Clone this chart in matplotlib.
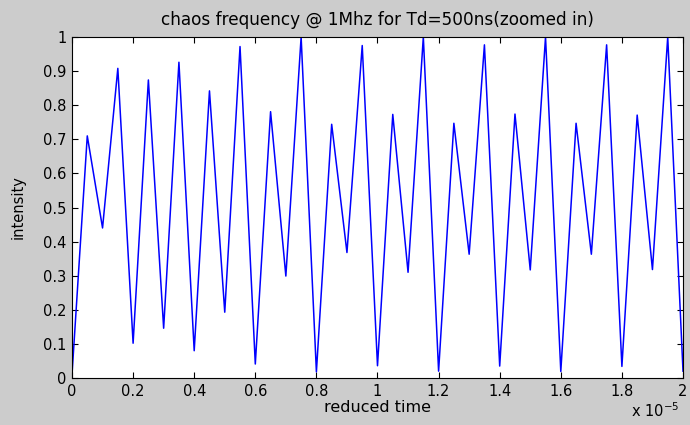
import matplotlib
matplotlib.use("Agg")
import matplotlib.pyplot as plt

# reduced time (units of 1e-5 s) at the peaks / troughs of the waveform
time_pts = [0.00, 0.05, 0.10, 0.15, 0.20, 0.25, 0.30, 0.35, 0.40, 0.45,
            0.50, 0.55, 0.60, 0.65, 0.70, 0.75, 0.80, 0.85, 0.90, 0.95,
            1.00, 1.05, 1.10, 1.15, 1.20, 1.25, 1.30, 1.35, 1.40, 1.45,
            1.50, 1.55, 1.60, 1.65, 1.70, 1.75, 1.80, 1.85, 1.90, 1.95,
            2.00]
intensity = [0.01, 0.71, 0.44, 0.908, 0.102, 0.874, 0.146, 0.926, 0.080, 0.842,
             0.193, 0.972, 0.041, 0.781, 0.299, 1.0, 0.018, 0.744, 0.368, 0.975,
             0.036, 0.773, 0.310, 1.0, 0.020, 0.747, 0.363, 0.977, 0.035, 0.774,
             0.317, 1.0, 0.019, 0.747, 0.363, 0.977, 0.034, 0.771, 0.318, 1.0,
             0.020]

x_ticks = [0, 0.2, 0.4, 0.6, 0.8, 1.0, 1.2, 1.4, 1.6, 1.8, 2.0]
x_tick_labels = ["0", "0.2", "0.4", "0.6", "0.8", "1", "1.2", "1.4", "1.6", "1.8", "2"]
y_ticks = [0, 0.1, 0.2, 0.3, 0.4, 0.5, 0.6, 0.7, 0.8, 0.9, 1.0]
y_tick_labels = ["0", "0.1", "0.2", "0.3", "0.4", "0.5", "0.6", "0.7", "0.8", "0.9", "1"]

plt.rcParams['font.family'] = ['DejaVu Sans']

fig = plt.figure(figsize=(6.9, 4.25), dpi=100, facecolor='#cccccc')
ax = fig.add_axes([72/690, 1-378/425, (683-72)/690, (378-37)/425])
ax.set_facecolor('white')

ax.plot(time_pts, intensity, color='#0000ff', linewidth=1.1)

ax.set_xlim(0, 2)
ax.set_ylim(0, 1)
ax.set_xticks(x_ticks)
ax.set_xticklabels(x_tick_labels)
ax.set_yticks(y_ticks)
ax.set_yticklabels(y_tick_labels)
ax.tick_params(direction='in', length=4, width=0.8, labelsize=10.5,
               top=True, right=True, colors='black', pad=4)
for s in ax.spines.values():
    s.set_linewidth(0.8)

fig.text(0.5*(72+683)/690, 1-20/425, "chaos frequency @ 1Mhz for Td=500ns(zoomed in)",
         fontsize=12.2, ha='center', va='center')
fig.text(0.5*(72+683)/690, 1-408/425, "reduced time", fontsize=11.5,
         ha='center', va='center')
fig.text(18/690, 1-(37+378)/2/425, "intensity", fontsize=10.5, rotation=90,
         ha='center', va='center')
fig.text(655/690, 1-411/425, r"x 10$^{-5}$", fontsize=10.5, ha='center', va='center')

fig.savefig("out.png", dpi=100, facecolor=fig.get_facecolor())
